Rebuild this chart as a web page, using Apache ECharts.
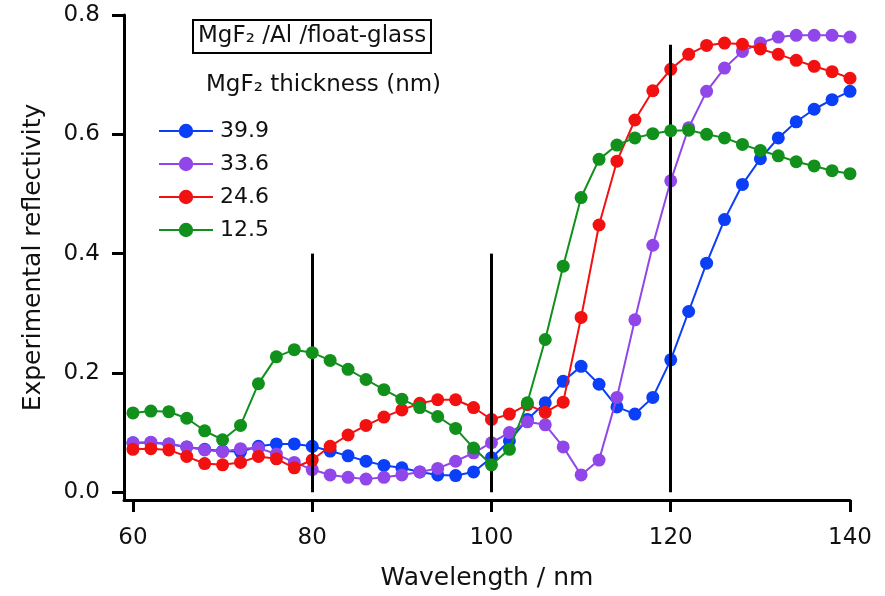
<!DOCTYPE html>
<html>
<head>
<meta charset="utf-8">
<script src="https://cdn.jsdelivr.net/npm/echarts@6/dist/echarts.min.js"></script>
<style>
html,body{margin:0;padding:0;background:#fff;}
#chart{width:885px;height:596px;}
</style>
</head>
<body>
<div id="chart"></div>
<script>
var wavelength = [60,62,64,66,68,70,72,74,76,78,80,82,84,86,88,90,92,94,96,98,100,102,104,106,108,110,112,114,116,118,120,122,124,126,128,130,132,134,136,138,140];
var r399 = [0.083,0.083,0.081,0.076,0.072,0.069,0.068,0.077,0.081,0.081,0.077,0.069,0.061,0.052,0.045,0.041,0.034,0.029,0.028,0.034,0.058,0.086,0.122,0.150,0.186,0.211,0.181,0.143,0.131,0.159,0.222,0.303,0.384,0.457,0.516,0.559,0.594,0.621,0.642,0.658,0.672];
var r336 = [0.083,0.084,0.081,0.076,0.071,0.068,0.073,0.074,0.064,0.050,0.038,0.029,0.025,0.022,0.025,0.029,0.034,0.040,0.052,0.066,0.083,0.100,0.118,0.113,0.076,0.029,0.054,0.159,0.289,0.414,0.522,0.611,0.672,0.711,0.739,0.753,0.763,0.766,0.766,0.766,0.763];
var r246 = [0.072,0.073,0.071,0.060,0.048,0.046,0.050,0.060,0.056,0.041,0.054,0.077,0.096,0.112,0.126,0.138,0.149,0.155,0.155,0.142,0.122,0.131,0.147,0.134,0.151,0.293,0.448,0.555,0.624,0.673,0.709,0.734,0.749,0.753,0.751,0.743,0.734,0.724,0.714,0.705,0.694];
var r125 = [0.133,0.136,0.135,0.124,0.103,0.088,0.112,0.182,0.227,0.239,0.234,0.221,0.206,0.189,0.172,0.156,0.142,0.127,0.107,0.074,0.046,0.072,0.150,0.256,0.379,0.494,0.558,0.582,0.594,0.601,0.606,0.607,0.600,0.594,0.583,0.573,0.564,0.554,0.547,0.539,0.534];
var seriesNames = ['39.9','33.6','24.6','12.5'];
var xTicks = [60,80,100,120,140];
var yTicks = [0,0.2,0.4,0.6,0.8];
var guideLines = [[80,0.4],[100,0.4],[120,0.75]];
var titleText = 'MgF\u2082 /Al /float-glass';
var legendTitle = 'MgF\u2082 thickness (nm)';
var xName = 'Wavelength / nm';
var yName = 'Experimental reflectivity';

var colors = ['#0a3ef7','#9046e8','#f21111','#11901c'];
var FONT = 'DejaVu Sans';
var TXT = '#111';
var allData = [r399, r336, r246, r125];

function pairs(arr){ return wavelength.map(function(w,i){ return [w, arr[i]]; }); }

var series = allData.map(function(arr, k){
  return {
    name: seriesNames[k],
    type: 'line',
    data: pairs(arr),
    symbol: 'circle',
    symbolSize: 13,
    color: colors[k],
    lineStyle: {width: 2, color: colors[k]},
    itemStyle: {color: colors[k]},
    emphasis: {disabled: true},
    animation: false,
    z: 2 + k
  };
});
series.push({
  name: 'guides',
  type: 'line',
  data: [],
  z: 20,
  animation: false,
  markLine: {
    silent: true,
    symbol: ['none','none'],
    label: {show: false},
    animation: false,
    lineStyle: {color: '#000', width: 3, type: 'solid'},
    data: guideLines.map(function(g){ return [{coord:[g[0],0]},{coord:[g[0],g[1]]}]; })
  }
});

var chart = echarts.init(document.getElementById('chart'), null, {renderer:'canvas'});
chart.setOption({
  animation: false,
  backgroundColor: '#fff',
  textStyle: {fontFamily: FONT},
  title: [
    {text: titleText, left: 193, top: 20, padding: [5,5,5,5], borderColor: '#000', borderWidth: 2,
     textStyle: {fontFamily: FONT, fontSize: 23, fontWeight: 'normal', color: TXT}},
    {text: legendTitle, left: 206, top: 74, padding: 0,
     textStyle: {fontFamily: FONT, fontSize: 23, fontWeight: 'normal', color: TXT}}
  ],
  legend: {
    data: seriesNames,
    orient: 'vertical',
    left: 153,
    top: 114,
    itemWidth: 54,
    itemHeight: 18,
    itemGap: 9,
    selectedMode: false,
    textStyle: {fontFamily: FONT, fontSize: 22, color: TXT, lineHeight: 24, padding: [0,0,0,2]}
  },
  grid: {left: 124, right: 35, top: 15, bottom: 93, containLabel: false},
  xAxis: {
    type: 'value', min: 59, max: 140,
    name: xName, nameLocation: 'middle', nameGap: 66,
    nameTextStyle: {fontFamily: FONT, fontSize: 25, color: TXT},
    axisLine: {onZero: false, lineStyle: {color: '#000', width: 3}},
    axisTick: {show: true, length: 12, customValues: xTicks, lineStyle: {color: '#000', width: 3}},
    axisLabel: {customValues: xTicks, margin: 27, fontFamily: FONT, fontSize: 23, color: TXT},
    splitLine: {show: false}
  },
  yAxis: {
    type: 'value', min: -0.013, max: 0.8,
    name: yName, nameLocation: 'middle', nameGap: 78, nameRotate: 90,
    nameTextStyle: {fontFamily: FONT, fontSize: 25, color: TXT},
    axisLine: {onZero: false, lineStyle: {color: '#000', width: 3}},
    axisTick: {show: true, length: 12, customValues: yTicks, lineStyle: {color: '#000', width: 3}},
    axisLabel: {customValues: yTicks, margin: 24, fontFamily: FONT, fontSize: 23, color: TXT,
      formatter: function(v){ return v.toFixed(1); }},
    splitLine: {show: false}
  },
  series: series
});
</script>
</body>
</html>
